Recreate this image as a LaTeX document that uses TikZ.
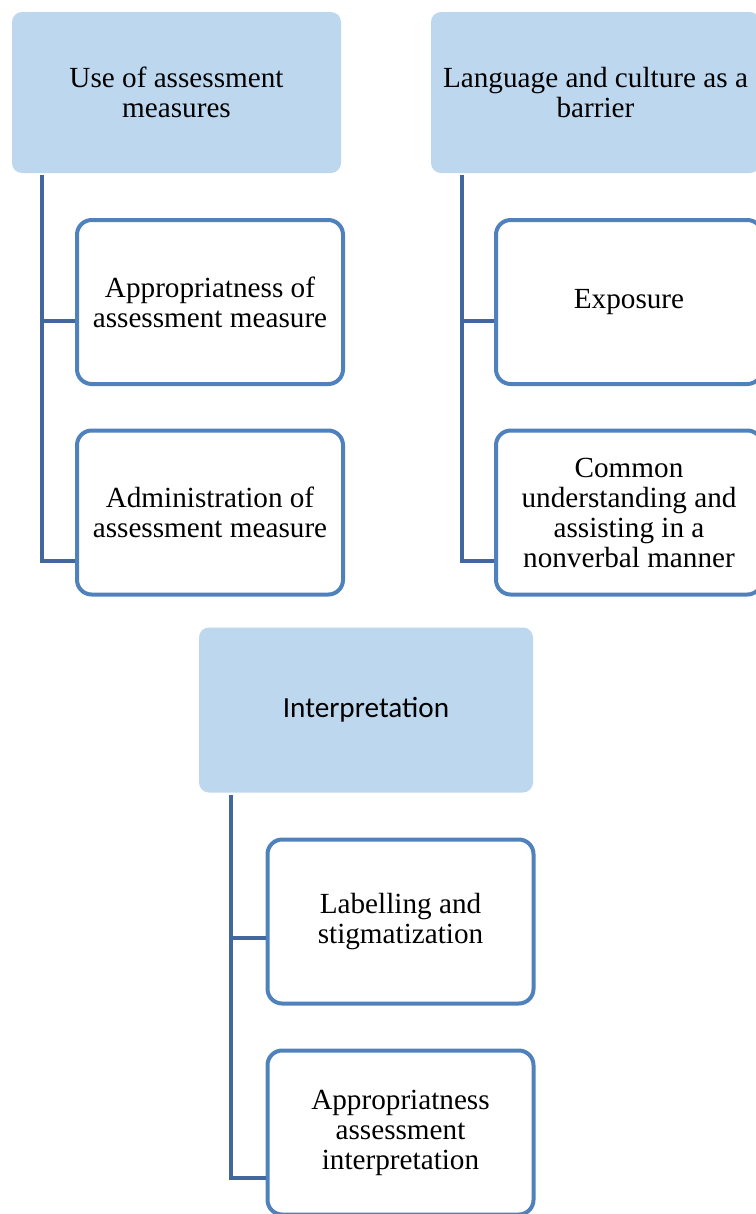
\documentclass[tikz,border=0pt]{standalone}
\usepackage{fontspec}
\setmainfont{Liberation Serif}
\newfontfamily\calibri{Carlito}
\usetikzlibrary{positioning,calc}
\definecolor{hdrfill}{HTML}{BDD7EE}
\definecolor{subline}{HTML}{4F81BD}
\definecolor{linkcol}{HTML}{41679C}

\begin{document}
\begin{tikzpicture}[
  x=0.75pt, y=-0.75pt,
  hdr/.style={fill=hdrfill, rounded corners=7.5pt, minimum width=246.75pt, minimum height=120.75pt, align=center, inner sep=0pt, font=\fontsize{21.9}{22.5}\selectfont},
  sub/.style={draw=subline, line width=3pt, fill=white, rounded corners=11pt, minimum width=199.5pt, minimum height=123pt, align=center, inner sep=0pt, font=\fontsize{21.9}{22.5}\selectfont},
  link/.style={draw=linkcol, line width=3pt}
]
\path[use as bounding box] (0,0) rectangle (756,1214);
\clip (0,0) rectangle (756,1214);

% headers
\node[hdr] (use) at (176.5,92.5) {Use of assessment\\measures};
\node[hdr] (lang) at (595.5,92.5) {Language and culture as a\\barrier};
\node[hdr, minimum width=250.5pt, minimum height=123.75pt] (interp) at (366,710) {\calibri Interpretation};

% sub items
\node[sub] (approp) at (210,302) {Appropriatness of\\assessment measure};
\node[sub] (admin) at (210,512.5) {Administration of\\assessment measure};
\node[sub] (expo) at (629,302) {Exposure};
\node[sub] (common) at (629,512.5) {Common\\understanding and\\assisting in a\\nonverbal manner};
\node[sub] (label) at (400.5,921.5) {Labelling and\\stigmatization};
\node[sub] (apint) at (400.5,1132.5) {Appropriatness\\assessment\\interpretation};

% joints
\coordinate (usetop) at ($(use.south west)+(30.5,2)$);
\coordinate (langtop) at ($(lang.south west)+(31,2)$);
\coordinate (interptop) at ($(interp.south west)+(32,2)$);
\coordinate (approp-j) at ($(approp.west)+(0,19)$);
\coordinate (admin-j) at ($(admin.west)+(0,48.5)$);
\coordinate (expo-j) at ($(expo.west)+(0,19)$);
\coordinate (common-j) at ($(common.west)+(0,48.5)$);
\coordinate (label-j) at ($(label.west)+(0,16.5)$);
\coordinate (apint-j) at ($(apint.west)+(0,45.5)$);

% connectors
\draw[link] (usetop) |- (admin-j);
\draw[link] (usetop |- approp-j) -- (approp-j);
\draw[link] (langtop) |- (common-j);
\draw[link] (langtop |- expo-j) -- (expo-j);
\draw[link] (interptop) |- (apint-j);
\draw[link] (interptop |- label-j) -- (label-j);
\end{tikzpicture}
\end{document}
